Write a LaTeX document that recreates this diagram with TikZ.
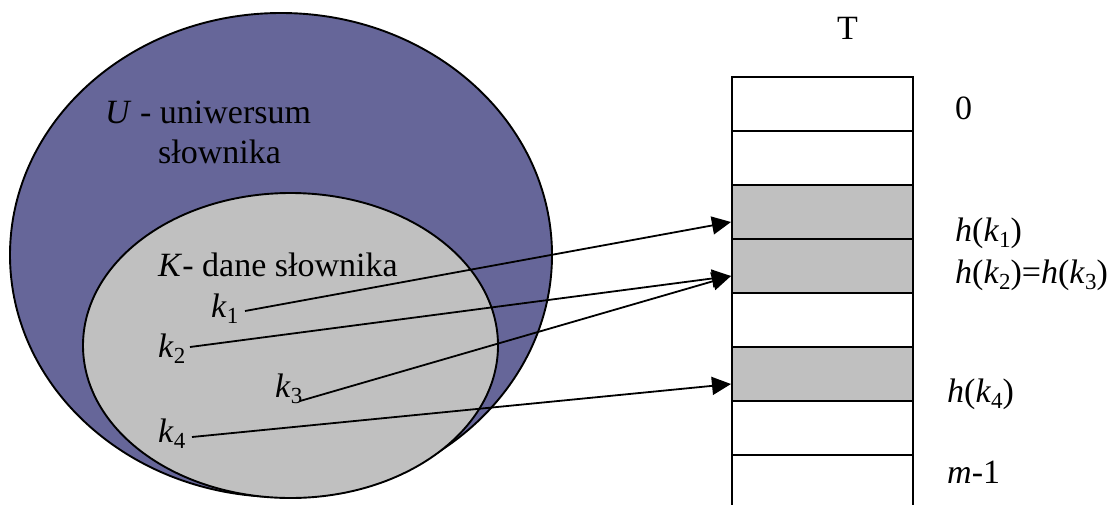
\documentclass[tikz,border=0pt]{standalone}
\usepackage{fontspec}
\setmainfont{Liberation Serif}
\usetikzlibrary{arrows.meta}
\definecolor{navy}{HTML}{666699}
\definecolor{lgrey}{HTML}{C0C0C0}
\newcommand{\kk}[1]{\textit{k}\raisebox{-6pt}{\fontsize{23}{23}\selectfont #1}}
\begin{document}
\begin{tikzpicture}[x=1pt,y=-1pt,
  txt/.style={anchor=base west,inner sep=0pt,font=\fontsize{34}{40}\selectfont},
  cell/.style={draw,line width=2pt,minimum width=181pt,minimum height=54pt,inner sep=0pt},
  link/.style={line width=1.8pt,-{Triangle[length=19pt,width=18pt]}}]
\useasboundingbox (0,0) rectangle (1114,504);
% sets
\draw[fill=navy,line width=1.9pt] (281,255) ellipse [x radius=271, y radius=242];
\draw[fill=lgrey,line width=1.9pt] (290.5,345.5) ellipse [x radius=207.5, y radius=152.5];
% table
\foreach \i in {0,...,7}{
  \node[cell,fill=white] (c\i) at (822.5,104+54*\i) {};
}
\foreach \i in {2,3,5}{
  \node[cell,fill=lgrey] (g\i) at (822.5,104+54*\i) {};
}
% labels
\node[txt] (T) at (837,39) {T};
\node[txt] (l0) at (955,119) {0};
\node[txt] (lh1) at (955,241) {\textit{h}(\kk{1})};
\node[txt] (lh23) at (955,283) {\textit{h}(\kk{2})=\textit{h}(\kk{3})};
\node[txt] (lh4) at (947,402) {\textit{h}(\kk{4})};
\node[txt] (lm) at (947,483) {\textit{m}-1};
\node[txt] (U) at (105,123) {\textit{U} - uniwersum};
\node[txt] (U2) at (158,163) {słownika};
\node[txt] (K) at (158,276) {\textit{K}- dane słownika};
\node[txt] (k1) at (211,317) {\kk{1}};
\node[txt] (k2) at (158,357) {\kk{2}};
\node[txt] (k3) at (275,397) {\kk{3}};
\node[txt] (k4) at (158,442) {\kk{4}};
% connectors
\coordinate (s1) at (245,311);
\coordinate (s2) at (190,347);
\coordinate (s3) at (300,401);
\coordinate (s4) at (192,437);
\draw[link] (s1) -- ([yshift=-10pt]g2.west);
\draw[link] (s2) -- ([yshift=-10pt]g3.west);
\draw[link] (s3) -- ([yshift=-10pt]g3.west);
\draw[link] (s4) -- ([yshift=-10pt]g5.west);
\end{tikzpicture}
\end{document}
